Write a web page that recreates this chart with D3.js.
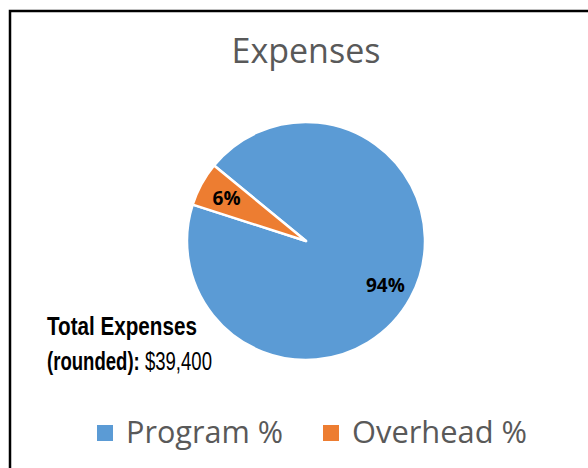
<!DOCTYPE html>
<html>
<head>
<meta charset="utf-8">
<script src="https://cdn.jsdelivr.net/npm/d3@7"></script>
<style>
  html, body { margin: 0; padding: 0; background: #fff; }
  svg { display: block; }
</style>
</head>
<body>
<div id="chart"></div>
<script>
// ── Data ─────────────────────────────────────────
var title = "Expenses";
var categories = ["Program %", "Overhead %"];
var values = [94, 6];
var colors = ["#5B9BD5", "#ED7D31"];
var noteBold = ["Total Expenses", "(rounded):"];
var noteValue = "$39,400";

var W = 588, H = 468;
var cx = 306, cy = 241, R = 119;
var firstSliceAngle = -50.6; // degrees, clockwise from 12 o'clock

var svg = d3.select("#chart").append("svg")
  .attr("width", W).attr("height", H);

// squeeze/stretch a text element's font-size so it spans a given width
function fit(sel, width) {
  var fs = parseFloat(sel.attr("font-size"));
  var len = sel.node().getComputedTextLength();
  sel.attr("font-size", (fs * width / len).toFixed(2));
  return sel;
}

// horizontal squeeze only (fakes a condensed face)
function squeeze(sel, x, width) {
  var len = sel.node().getComputedTextLength();
  sel.attr("transform", "translate(" + x + ",0) scale(" + (width / len).toFixed(3) + ",1)");
  return sel;
}

// frame (left + top edges only, as in the screenshot)
svg.append("path")
  .attr("d", "M10,468 V11 H588")
  .attr("fill", "none")
  .attr("stroke", "#000")
  .attr("stroke-width", 2.5);

// Title
fit(svg.append("text")
  .attr("x", cx).attr("y", 63)
  .attr("text-anchor", "middle")
  .attr("font-family", "'Open Sans', sans-serif")
  .attr("font-size", 30)
  .attr("fill", "#595959")
  .text(title), 149);

// Pie
var pie = d3.pie().sort(null)
  .startAngle(firstSliceAngle * Math.PI / 180)
  .endAngle(firstSliceAngle * Math.PI / 180 + 2 * Math.PI);
var arcs = pie(values);
var arc = d3.arc().innerRadius(0).outerRadius(R);
var labelArc = d3.arc().innerRadius(R * 0.76).outerRadius(R * 0.76);

var g = svg.append("g").attr("transform", "translate(" + cx + "," + cy + ")");

g.selectAll(".slice")
  .data(arcs)
  .join("path")
  .attr("class", "slice")
  .attr("d", arc)
  .attr("fill", function (d, i) { return colors[i]; })
  .attr("stroke", "#fff")
  .attr("stroke-width", 2.5)
  .attr("stroke-linejoin", "round");

g.selectAll(".lbl")
  .data(arcs)
  .join("text")
  .attr("class", "lbl")
  .attr("transform", function (d) { return "translate(" + labelArc.centroid(d) + ")"; })
  .attr("dy", "0.4em")
  .attr("text-anchor", "middle")
  .attr("font-family", "'Open Sans', sans-serif")
  .attr("font-weight", "bold")
  .attr("font-size", 19)
  .attr("fill", "#000")
  .text(function (d) { return d.data + "%"; });

// Total note (tall condensed lettering)
var note = svg.append("g")
  .attr("font-family", "'Liberation Sans', Arial, sans-serif")
  .attr("font-size", 26)
  .attr("fill", "#000");
squeeze(note.append("text")
  .attr("y", 335)
  .attr("font-weight", "bold")
  .text(noteBold[0]), 47, 150);
var l2 = note.append("text").attr("y", 370);
l2.append("tspan").attr("font-weight", "bold").text(noteBold[1] + " ");
l2.append("tspan").text(noteValue);
squeeze(l2, 47, 165);

// Legend
var legendX = [97, 323];
var legendW = [157, 175];
var leg = svg.selectAll(".leg")
  .data(categories)
  .join("g")
  .attr("class", "leg")
  .attr("transform", function (d, i) { return "translate(" + legendX[i] + ",425)"; });
leg.append("rect")
  .attr("width", 16).attr("height", 16)
  .attr("fill", function (d, i) { return colors[i]; });
leg.append("text")
  .attr("x", 29).attr("y", 18)
  .attr("font-family", "'Open Sans', sans-serif")
  .attr("font-size", 26)
  .attr("fill", "#595959")
  .text(function (d) { return d; })
  .each(function (d, i) { fit(d3.select(this), legendW[i]); });
</script>
</body>
</html>
